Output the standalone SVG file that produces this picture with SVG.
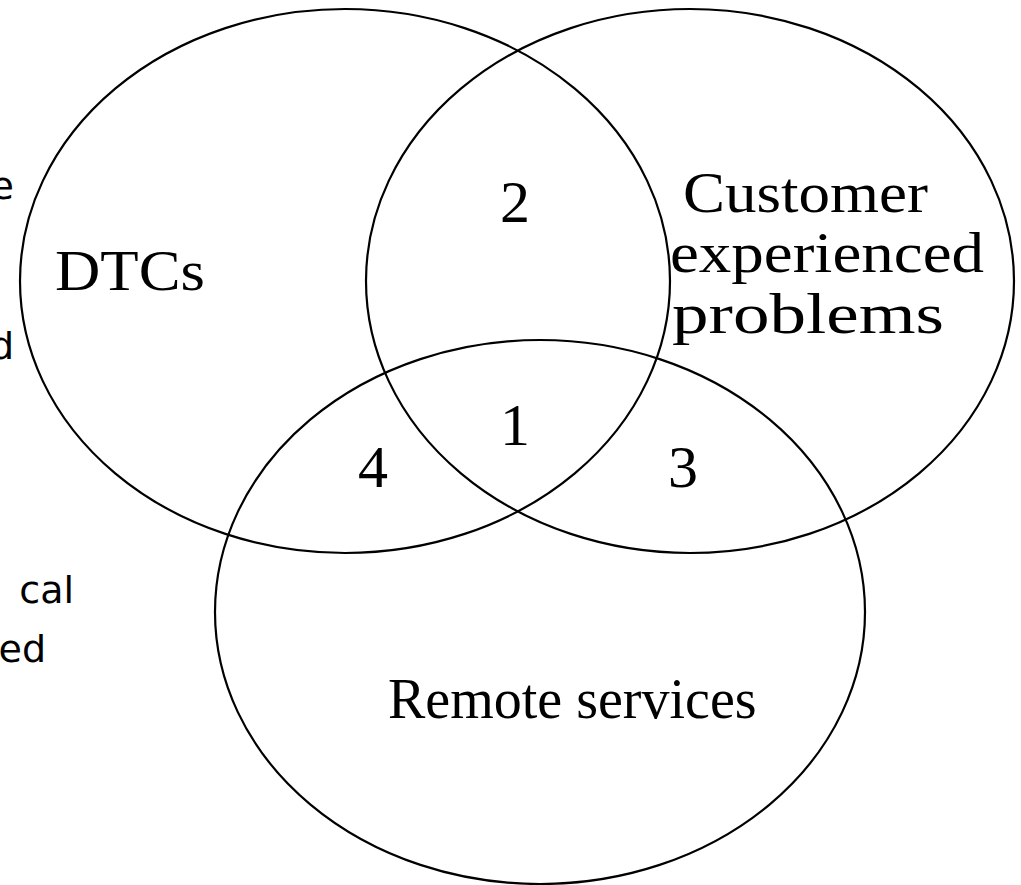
<svg xmlns="http://www.w3.org/2000/svg" width="1021" height="885" viewBox="0 0 1021 885">
  <style>
    .set { fill: none; stroke: #000; stroke-width: 2.2; }
    .lbl { font-family: "Liberation Serif", "Times New Roman", serif; font-size: 58px; fill: #000; }
    .big { font-size: 56px; }
    .num { font-family: "Liberation Serif", "Times New Roman", serif; font-size: 60px; fill: #000; }
    .side { font-family: "DejaVu Sans", "Open Sans", sans-serif; font-size: 38px; fill: #000; text-anchor: end; }
  </style>
  <rect width="1021" height="885" fill="#fff"/>

  <!-- fragments of body text cut off at the left edge -->
  <g id="side-text">
    <text class="side" x="14" y="199">e</text>
    <text class="side" x="14" y="359">d</text>
    <text class="side" x="74" y="603">cal</text>
    <text class="side" x="46" y="662">ed</text>
  </g>

  <!-- the three sets -->
  <g id="connectors"></g>
  <g id="set-dtcs">
    <ellipse class="set" cx="345" cy="281" rx="325" ry="272"/>
    <text class="lbl" x="55" y="290" textLength="150" lengthAdjust="spacingAndGlyphs">DTCs</text>
  </g>
  <g id="set-customer">
    <ellipse class="set" cx="690" cy="281" rx="324" ry="272"/>
    <text class="lbl" x="683" y="212" textLength="245" lengthAdjust="spacingAndGlyphs">Customer</text>
    <text class="lbl" x="670" y="272" textLength="314" lengthAdjust="spacingAndGlyphs">experienced</text>
    <text class="lbl" x="672" y="333" textLength="272" lengthAdjust="spacingAndGlyphs">problems</text>
  </g>
  <g id="set-remote">
    <ellipse class="set" cx="540" cy="612" rx="325" ry="272"/>
    <text class="lbl big" x="388" y="718">Remote services</text>
  </g>

  <!-- region numbers -->
  <g id="regions">
    <text class="num" x="500" y="222">2</text>
    <text class="num" x="500" y="445">1</text>
    <text class="num" x="358" y="487">4</text>
    <text class="num" x="668" y="487">3</text>
  </g>
</svg>
